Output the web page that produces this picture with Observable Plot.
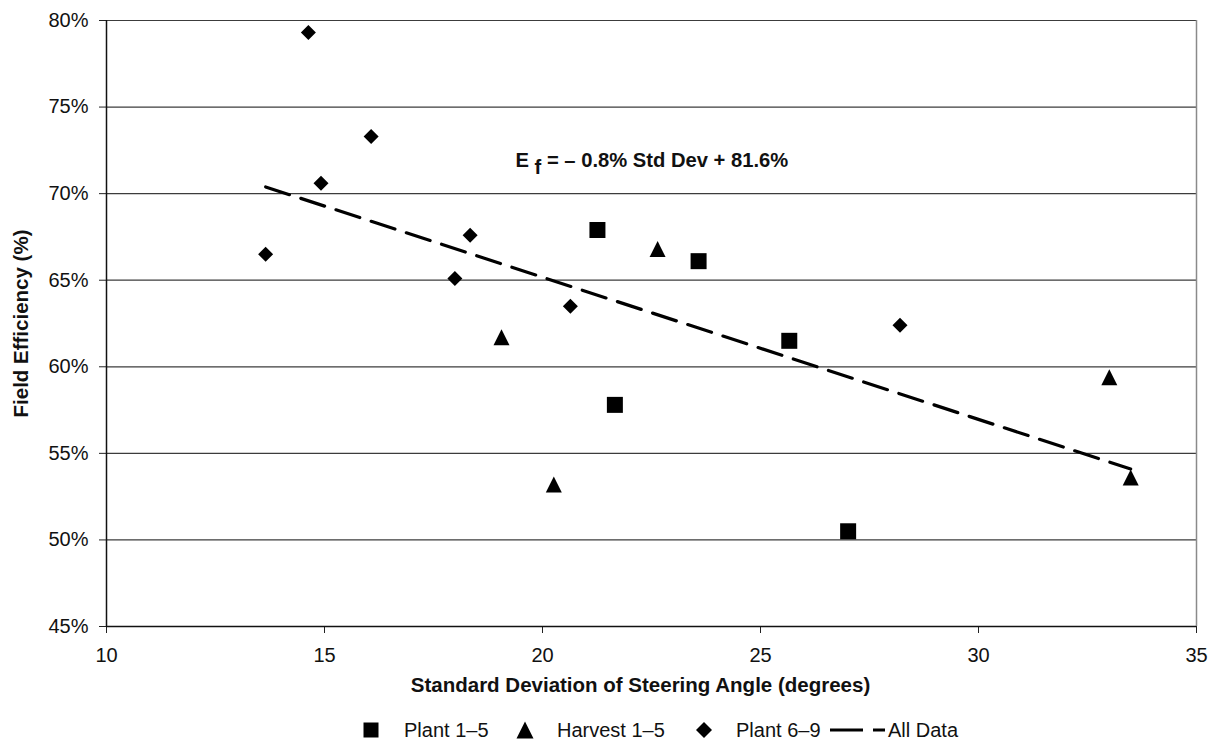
<!DOCTYPE html>
<html>
<head>
<meta charset="utf-8">
<script src="https://cdn.jsdelivr.net/npm/d3@7"></script>
<script src="https://cdn.jsdelivr.net/npm/@observablehq/plot@0.6"></script>
<style>
  html, body { margin: 0; padding: 0; background: #fff; }
  body { width: 1211px; height: 740px; overflow: hidden; font-family: "Liberation Sans", Arial, sans-serif; }
  #chart svg, #legend svg { display: block; }
</style>
</head>
<body>
<div id="chart"></div>
<div id="legend"></div>
<script>
// ---- data ----
const seriesNames = ["Plant 1\u20135", "Harvest 1\u20135", "Plant 6\u20139", "All Data"];

const plant15X = [21.26, 23.58, 25.66, 21.66, 27.01];
const plant15Y = [67.9, 66.1, 61.5, 57.8, 50.5];

const harvest15X = [22.64, 19.06, 20.26, 33.0, 33.49];
const harvest15Y = [66.8, 61.7, 53.2, 59.4, 53.6];

const plant69X = [14.63, 16.07, 14.92, 13.65, 18.34, 17.99, 20.64, 28.2];
const plant69Y = [79.3, 73.3, 70.6, 66.5, 67.6, 65.1, 63.5, 62.4];

const xTicks = [10, 15, 20, 25, 30, 35];
const yTicks = [45, 50, 55, 60, 65, 70, 75, 80];

const xTitle = "Standard Deviation of Steering Angle (degrees)";
const yTitle = "Field Efficiency (%)";
const equationText = ["E f = \u2013 0.8% Std Dev + 81.6%"];

// ---- build table ----
const toRows = (xs, ys, s) => xs.map((x, i) => ({x, y: ys[i], series: s}));
const plant15 = toRows(plant15X, plant15Y, seriesNames[0]);
const harvest15 = toRows(harvest15X, harvest15Y, seriesNames[1]);
const plant69 = toRows(plant69X, plant69Y, seriesNames[2]);
const allData = [...plant15, ...harvest15, ...plant69];

// ---- Excel-like marker symbols (centered on bounding box) ----
const rad = (size) => Math.sqrt(size / Math.PI);
const squareSym = {draw(ctx, size) { const s = rad(size); ctx.rect(-s, -s, 2 * s, 2 * s); }};
const triangleSym = {draw(ctx, size) { const s = rad(size); ctx.moveTo(0, -s); ctx.lineTo(s, s); ctx.lineTo(-s, s); ctx.closePath(); }};
const diamondSym = {draw(ctx, size) { const s = rad(size); ctx.moveTo(0, -s); ctx.lineTo(s, 0); ctx.lineTo(0, s); ctx.lineTo(-s, 0); ctx.closePath(); }};

const FONT = "'Liberation Sans', Arial, sans-serif";

const chart = Plot.plot({
  width: 1211,
  height: 705,
  marginLeft: 106,
  marginRight: 15,
  marginTop: 20,
  marginBottom: 79,
  style: {fontFamily: FONT, fontSize: "20px", color: "#111", background: "white"},
  x: {domain: [10, 35]},
  y: {domain: [45, 80]},
  marks: [
    Plot.ruleY(yTicks.filter(d => d > 45), {stroke: "#3c3c3c", strokeWidth: 1.2}),
    Plot.ruleX([35], {stroke: "#8a8a8a", strokeWidth: 1.5}),
    Plot.axisX({ticks: xTicks, tickSize: 7, tickPadding: 14, label: null, stroke: "#222", fontSize: 20}),
    Plot.axisY({ticks: yTicks, tickSize: 7, tickPadding: 11, label: null, tickFormat: d => d + "%", stroke: "#222", fontSize: 20}),
    Plot.ruleX([10], {stroke: "#111", strokeWidth: 1.5}),
    Plot.ruleY([45], {stroke: "#111", strokeWidth: 1.5}),
    Plot.linearRegressionY(allData, {x: "x", y: "y", ci: 0, stroke: "black", strokeWidth: 3.2, strokeDasharray: "25,12"}),
    Plot.dot(plant15, {x: "x", y: "y", symbol: squareSym, r: 8, fill: "black", stroke: "none"}),
    Plot.dot(harvest15, {x: "x", y: "y", symbol: triangleSym, r: 8, fill: "black", stroke: "none"}),
    Plot.dot(plant69, {x: "x", y: "y", symbol: diamondSym, r: 7.5, fill: "black", stroke: "none"}),
    Plot.text(equationText, {text: d => d, frameAnchor: "top-left", textAnchor: "start", dx: 409, dy: 132, fontWeight: "bold", fontSize: 20.2, className: "equation"}),
    Plot.text([xTitle], {text: d => d, frameAnchor: "bottom", textAnchor: "middle", dx: -11, dy: 65, fontWeight: "bold", fontSize: 20.5}),
    Plot.text([yTitle], {text: d => d, frameAnchor: "left", textAnchor: "middle", dx: -85, rotate: -90, fontWeight: "bold", fontSize: 20.5})
  ]
});
document.getElementById("chart").appendChild(chart);

// subscript "f" in the equation
const eq = chart.querySelector(".equation text");
if (eq) {
  const full = eq.textContent;
  const rest = full.slice(3);
  eq.textContent = "";
  const ns = "http://www.w3.org/2000/svg";
  const t1 = document.createElementNS(ns, "tspan"); t1.textContent = "E ";
  const t2 = document.createElementNS(ns, "tspan"); t2.textContent = "f"; t2.setAttribute("dy", "7");
  const t3 = document.createElementNS(ns, "tspan"); t3.textContent = rest; t3.setAttribute("dy", "-7");
  eq.append(t1, t2, t3);
}

// ---- legend (separate SVG below the chart) ----
const legendSyms = [squareSym, triangleSym, diamondSym, null];
const markerCenter = [371, 525, 704, null];
const markerR = [7.5, 8.5, 8, null];
const labelStart = [404, 557, 736, 888];
const lg = d3.select("#legend").append("svg")
  .attr("width", 1211).attr("height", 35)
  .style("font-family", FONT).style("font-size", "20px");
const cy = 25; // 730 in page coordinates
seriesNames.forEach((name, i) => {
  if (legendSyms[i]) {
    const r = markerR[i];
    lg.append("path").attr("transform", `translate(${markerCenter[i]},${cy})`)
      .attr("d", d3.symbol(legendSyms[i], r * r * Math.PI)()).attr("fill", "black");
  } else {
    lg.append("line").attr("x1", 830).attr("x2", 885).attr("y1", cy).attr("y2", cy)
      .attr("stroke", "black").attr("stroke-width", 3.2).attr("stroke-dasharray", "33,10");
  }
  lg.append("text").attr("x", labelStart[i]).attr("y", cy).attr("dy", "0.36em")
    .attr("fill", "#111").text(name);
});
</script>
</body>
</html>
